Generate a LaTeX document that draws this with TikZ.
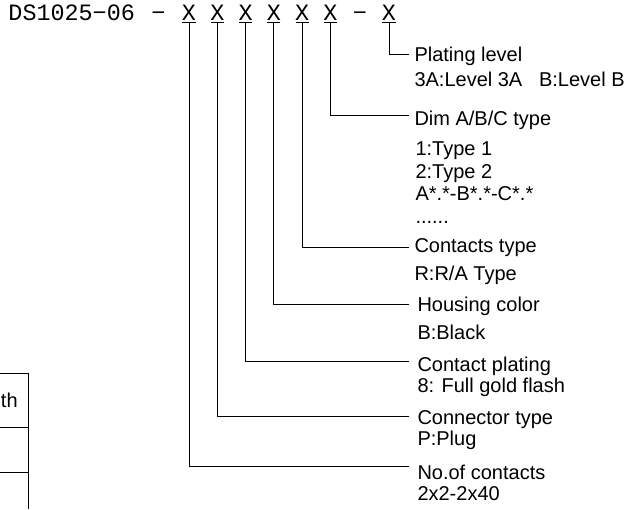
\documentclass[tikz,border=0pt]{standalone}
\usepackage{fontspec}
\setmainfont{Liberation Sans}
\newfontfamily\codefont{Liberation Mono}
\usetikzlibrary{positioning, calc}

\begin{document}
\begin{tikzpicture}[x=1pt, y=-1pt, line width=1pt,
    lbl/.style={anchor=base west, inner sep=0pt, font=\fontsize{20}{24}\selectfont},
    code/.style={anchor=base, inner xsep=-1pt, inner ysep=1.5pt, font=\codefont\fontsize{23.4}{26}\selectfont}]
    \useasboundingbox (0,0) rectangle (642,509);

    % Part number
    \node [code, anchor=base west, inner sep=0pt] (prefix) at (8,20.5) {DS1025−06};
    \node [code] (dasha) at (158.5,20.5) {−};
    \node [code] (x1) at (189,20.5) {X};
    \node [code] (x2) at (217.3,20.5) {X};
    \node [code] (x3) at (245.6,20.5) {X};
    \node [code] (x4) at (273.9,20.5) {X};
    \node [code] (x5) at (302.2,20.5) {X};
    \node [code] (x6) at (330.5,20.5) {X};
    \node [code] (dashb) at (360,20.5) {−};
    \node [code] (x7) at (389,20.5) {X};

    % Labels
    \node [lbl] (plating) at (414,61) {Plating level};
    \node [lbl] (platingval) at (414,86) {3A:Level 3A\ \ \ B:Level B};
    \node [lbl] (dim) at (414,125) {Dim A/B/C type};
    \node [lbl] (dimvala) at (415,155.5) {1:Type 1};
    \node [lbl] (dimvalb) at (415,178) {2:Type 2};
    \node [lbl] (dimvalc) at (415,200.5) {A*.*-B*.*-C*.*};
    \node [lbl] (dimvald) at (415,223) {......};
    \node [lbl] (ctype) at (414,252.5) {Contacts type};
    \node [lbl] (ctypeval) at (414,280.5) {R:R/A Type};
    \node [lbl] (housing) at (417,311) {Housing color};
    \node [lbl] (housingval) at (417,339) {B:Black};
    \node [lbl] (cplating) at (417,371.5) {Contact plating};
    \node [lbl] (cplatingval) at (417,392.5) {8: Full gold flash};
    \node [lbl] (conn) at (417,424) {Connector type};
    \node [lbl] (connval) at (417,445.5) {P:Plug};
    \node [lbl] (nocont) at (417,479) {No.of contacts};
    \node [lbl] (nocontval) at (417,500.5) {2x2-2x40};

    % Line ends
    \coordinate (c7) at (409,54);
    \coordinate (c6) at (409,115.5);
    \coordinate (c5) at (409,247);
    \coordinate (c4) at (409,304.5);
    \coordinate (c3) at (409,361);
    \coordinate (c2) at (409,416);
    \coordinate (c1) at (409,466);

    % Leaders
    \draw (x1.south west) -- (x1.south east) (x1.south) |- (c1);
    \draw (x2.south west) -- (x2.south east) (x2.south) |- (c2);
    \draw (x3.south west) -- (x3.south east) (x3.south) |- (c3);
    \draw (x4.south west) -- (x4.south east) (x4.south) |- (c4);
    \draw (x5.south west) -- (x5.south east) (x5.south) |- (c5);
    \draw (x6.south west) -- (x6.south east) (x6.south) |- (c6);
    \draw (x7.south west) -- (x7.south east) (x7.south) |- (c7);

    % Table edge at left
    \node [lbl] (tabtxt) at (0.5,407) {th};
    \draw (0,373) -- (28,373) -- (28,509);
    \draw (0,427) -- (28,427);
    \draw (0,472) -- (28,472);
\end{tikzpicture}
\end{document}
